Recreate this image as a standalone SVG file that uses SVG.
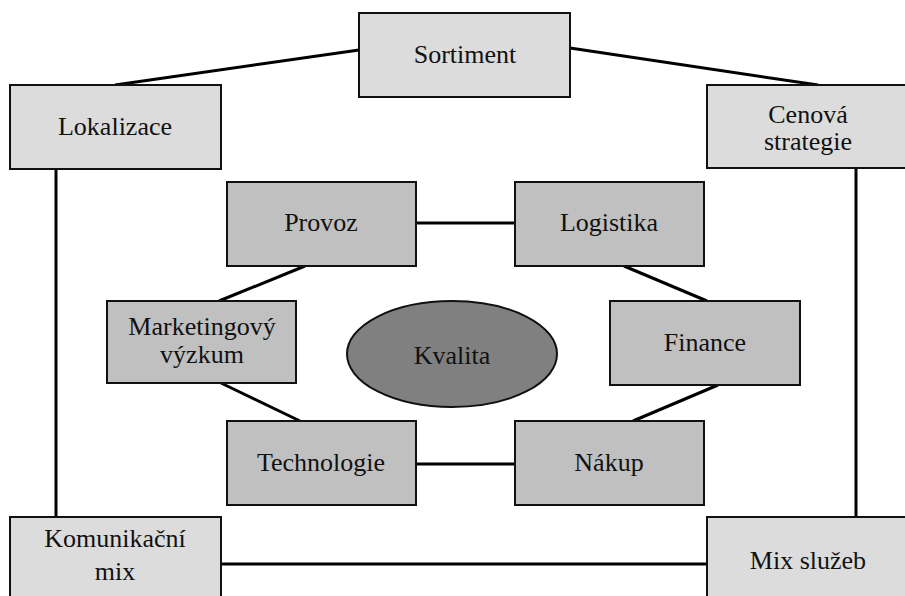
<svg xmlns="http://www.w3.org/2000/svg" width="905" height="596" viewBox="0 0 905 596">
  <style>
    .outer { fill: #dcdcdc; stroke: #111; stroke-width: 2; }
    .inner { fill: #c0c0c0; stroke: #111; stroke-width: 2; }
    .core { fill: #808080; stroke: #111; stroke-width: 2; }
    .link { stroke: #000; stroke-width: 3; fill: none; }
  </style>
  <rect width="905" height="596" fill="#fff"/>

  <g id="connectors">
    <line class="link" x1="115" y1="85" x2="359" y2="50"/>
    <line class="link" x1="570" y1="48" x2="818" y2="85"/>
    <line class="link" x1="56" y1="169" x2="56" y2="517"/>
    <line class="link" x1="856" y1="168" x2="856" y2="517"/>
    <line class="link" x1="221" y1="564" x2="707" y2="564"/>
    <line class="link" x1="416" y1="223" x2="515" y2="223"/>
    <line class="link" x1="416" y1="464" x2="515" y2="464"/>
    <line class="link" x1="305" y1="266" x2="219" y2="301"/>
    <line class="link" x1="624" y1="266" x2="707" y2="301"/>
    <line class="link" x1="221" y1="383" x2="300" y2="421"/>
    <line class="link" x1="718" y1="385" x2="633" y2="421"/>
  </g>

  <g id="sortiment">
    <rect class="outer" x="359" y="13" width="211" height="84"/>
    <text style="font-family:'Liberation Serif',serif;font-size:26px;fill:#111;text-anchor:middle" x="465" y="63">Sortiment</text>
  </g>
  <g id="lokalizace">
    <rect class="outer" x="10" y="85" width="211" height="84"/>
    <text style="font-family:'Liberation Serif',serif;font-size:26px;fill:#111;text-anchor:middle" x="115" y="135">Lokalizace</text>
  </g>
  <g id="cenova-strategie">
    <rect class="outer" x="707" y="85" width="210" height="83"/>
    <text style="font-family:'Liberation Serif',serif;font-size:26px;fill:#111;text-anchor:middle" x="808" y="123">Cenová</text>
    <text style="font-family:'Liberation Serif',serif;font-size:26px;fill:#111;text-anchor:middle" x="808" y="150">strategie</text>
  </g>

  <g id="provoz">
    <rect class="inner" x="227" y="182" width="189" height="84"/>
    <text style="font-family:'Liberation Serif',serif;font-size:26px;fill:#111;text-anchor:middle" x="321" y="231">Provoz</text>
  </g>
  <g id="logistika">
    <rect class="inner" x="515" y="182" width="189" height="84"/>
    <text style="font-family:'Liberation Serif',serif;font-size:26px;fill:#111;text-anchor:middle" x="609" y="231">Logistika</text>
  </g>
  <g id="marketingovy-vyzkum">
    <rect class="inner" x="107" y="301" width="189" height="82"/>
    <text style="font-family:'Liberation Serif',serif;font-size:26px;fill:#111;text-anchor:middle" x="202" y="335">Marketingový</text>
    <text style="font-family:'Liberation Serif',serif;font-size:26px;fill:#111;text-anchor:middle" x="202" y="363">výzkum</text>
  </g>
  <g id="finance">
    <rect class="inner" x="610" y="301" width="190" height="84"/>
    <text style="font-family:'Liberation Serif',serif;font-size:26px;fill:#111;text-anchor:middle" x="705" y="351">Finance</text>
  </g>
  <g id="kvalita">
    <ellipse class="core" cx="452" cy="354" rx="105" ry="53"/>
    <text style="font-family:'Liberation Serif',serif;font-size:26px;fill:#111;text-anchor:middle" x="452" y="364">Kvalita</text>
  </g>
  <g id="technologie">
    <rect class="inner" x="227" y="421" width="189" height="84"/>
    <text style="font-family:'Liberation Serif',serif;font-size:26px;fill:#111;text-anchor:middle" x="321" y="471">Technologie</text>
  </g>
  <g id="nakup">
    <rect class="inner" x="515" y="421" width="189" height="84"/>
    <text style="font-family:'Liberation Serif',serif;font-size:26px;fill:#111;text-anchor:middle" x="609" y="471">Nákup</text>
  </g>

  <g id="komunikacni-mix">
    <rect class="outer" x="10" y="517" width="211" height="90"/>
    <text style="font-family:'Liberation Serif',serif;font-size:26px;fill:#111;text-anchor:middle" x="115" y="547">Komunikační</text>
    <text style="font-family:'Liberation Serif',serif;font-size:26px;fill:#111;text-anchor:middle" x="115" y="580">mix</text>
  </g>
  <g id="mix-sluzeb">
    <rect class="outer" x="707" y="517" width="210" height="90"/>
    <text style="font-family:'Liberation Serif',serif;font-size:26px;fill:#111;text-anchor:middle" x="808" y="569">Mix služeb</text>
  </g>
</svg>
